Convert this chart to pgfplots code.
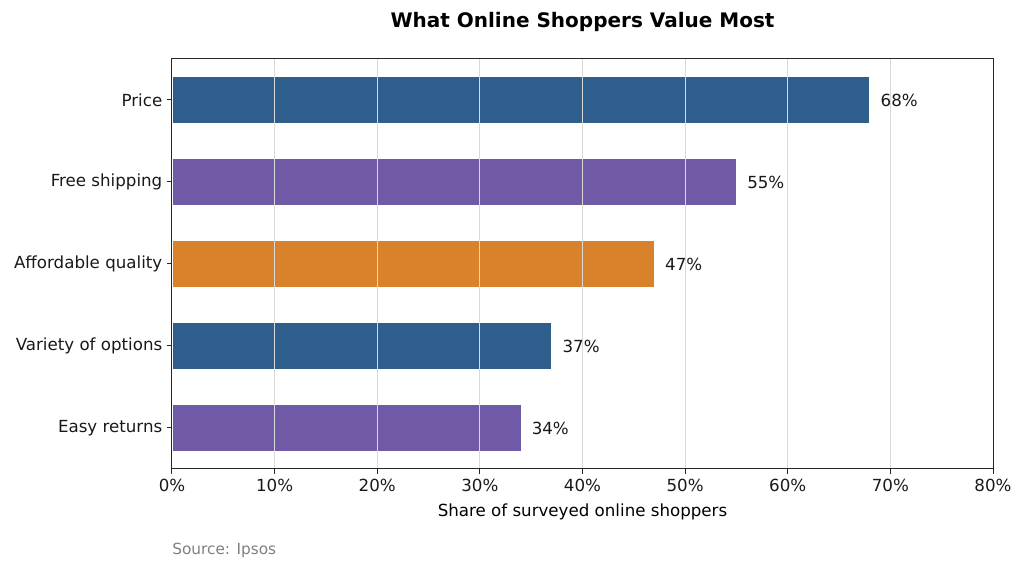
\documentclass[border=0pt]{standalone}
\usepackage{fontspec}
\setmainfont{DejaVu Sans}
\usepackage{pgfplots}
\pgfplotsset{compat=1.18}

\definecolor{cblue}{HTML}{2E5F8C}
\definecolor{cpurple}{HTML}{7059A7}
\definecolor{corange}{HTML}{DA812B}
\definecolor{gridgray}{HTML}{D9D9D9}
\definecolor{srcgray}{HTML}{808080}

\begin{document}
\begin{tikzpicture}
\begin{axis}[name=ax,
    scale only axis,
    width=615.75pt, height=307.5pt,
    xbar, bar shift=0pt, bar width=0.58,
    xmin=0, xmax=80, ymin=-0.5, ymax=4.5,
    xtick={0,10,...,80},
    xticklabel={\pgfmathprintnumber{\tick}\%},
    ytick={0,1,2,3,4},
    yticklabels={Easy returns,Variety of options,Affordable quality,Free shipping,Price},
    /pgf/number format/assume math mode=true,
    tick style={black!85, line width=0.75pt},
    major tick length=3.75pt,
    tick align=outside,
    xtick pos=bottom, ytick pos=left,
    axis line style={black!85, line width=0.75pt},
    xmajorgrids, major grid style={gridgray, line width=0.75pt},
    axis on top,
    ticklabel style={font=\fontsize{12.5}{14}\selectfont, text=black!90},
    title={What Online Shoppers Value Most},
    title style={at={(axis description cs:0.5,1)}, anchor=base, yshift=17.5pt,
                 font=\fontsize{15}{17}\selectfont\bfseries},
    xlabel={Share of surveyed online shoppers},
    xlabel style={at={(axis description cs:0.5,0)}, anchor=base, yshift=-36pt,
                  font=\fontsize{12.5}{14}\selectfont},
    point meta=x,
    nodes near coords={\pgfmathprintnumber{\pgfplotspointmeta}\%},
    every node near coord/.append style={anchor=west, xshift=4.5pt,
                  font=\fontsize{12.5}{14}\selectfont, text=black!90},
]
\addplot[fill=cblue, draw=white, line width=0.6pt] coordinates {(68,4) (37,1)};
\addplot[fill=cpurple, draw=white, line width=0.6pt] coordinates {(55,3) (34,0)};
\addplot[fill=corange, draw=white, line width=0.6pt] coordinates {(47,2)};
\end{axis}
\node[anchor=base west, inner sep=0pt, text=srcgray, font=\fontsize{11.5}{13}\selectfont]
    at ([yshift=-64.5pt]ax.south west) {Source: Ipsos};
\pgfresetboundingbox
\path ([xshift=-129pt, yshift=-75.75pt]ax.south west) rectangle +(768pt,427.5pt);
\end{tikzpicture}
\end{document}
